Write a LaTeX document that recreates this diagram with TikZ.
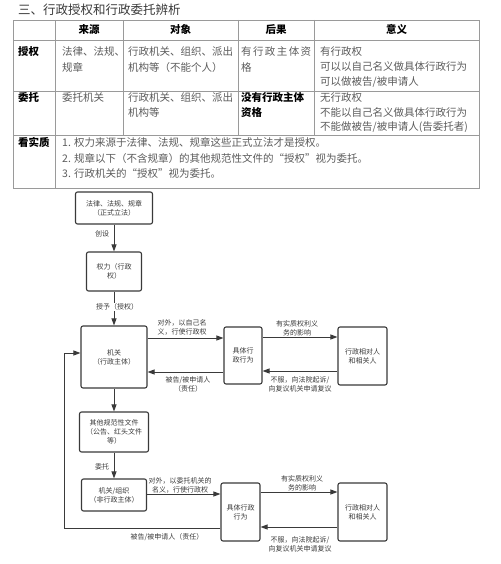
\documentclass[tikz,border=0pt]{standalone}
\usepackage{fontspec}
\setmainfont{Noto Sans CJK SC}
\usetikzlibrary{arrows.meta}
\definecolor{tline}{HTML}{9A9A9A}
\definecolor{ttext}{HTML}{5C5C5C}
\definecolor{fc}{HTML}{3A3A3A}
\begin{document}
\begin{tikzpicture}[x=1pt,y=-1pt,
  tl/.style={draw=tline, line width=0.8pt},
  cell/.style={anchor=base west, inner sep=0pt, text=ttext, font=\fontsize{10.5}{12}\selectfont},
  bcell/.style={anchor=base west, inner sep=0pt, text=black, font=\fontsize{10.5}{12}\selectfont\bfseries},
  hcell/.style={anchor=base, inner sep=0pt, text=black, font=\fontsize{10.5}{12}\selectfont\bfseries},
  box/.style={draw=fc, line width=1.1pt, rounded corners=2pt, align=center, text=fc,
    font=\fontsize{7}{9}\selectfont, inner sep=1pt},
  arr/.style={draw=fc, line width=0.9pt, -{Triangle[length=7pt,width=5pt]}},
  lbl/.style={text=fc, font=\fontsize{7}{9}\selectfont, align=center, inner sep=1pt}
]
\useasboundingbox (0,0) rectangle (500,564);
\fill[white] (0,0) rectangle (500,564);

% ---------- title ----------
\node[anchor=base west, inner sep=0pt, text=fc, font=\fontsize{12.5}{14}\selectfont] (title) at (18,14.5) {三、行政授权和行政委托辨析};

% ---------- table grid ----------
\draw[tl] (13,20) rectangle (479,188);
\draw[tl] (13,40) -- (479,40);
\draw[tl] (13,91) -- (479,91);
\draw[tl] (13,135) -- (479,135);
\draw[tl] (55,20) -- (55,188);
\draw[tl] (123,20) -- (123,135);
\draw[tl] (238,20) -- (238,135);
\draw[tl] (314,20) -- (314,135);

% header
\node[hcell] (h1) at (89,34) {来源};
\node[hcell] (h2) at (180.5,34) {对象};
\node[hcell] (h3) at (276,34) {后果};
\node[hcell] (h4) at (396.5,34) {意义};

% row 1
\node[bcell] (r1) at (18,56) {授权};
\node[cell] (r1a1) at (62,56) {法律、法规、};
\node[cell] (r1a2) at (62,72) {规章};
\node[cell] (r1b1) at (128,56) {行政机关、组织、派出};
\node[cell] (r1b2) at (128,72) {机构等（不能个人）};
\node[cell] (r1c1) at (241,56) {\makebox[70pt][s]{有\hfil 行\hfil 政\hfil 主\hfil 体\hfil 资}};
\node[cell] (r1c2) at (241,72) {格};
\node[cell] (r1d1) at (320,56) {有行政权};
\node[cell] (r1d2) at (320,71) {可以以自己名义做具体行政行为};
\node[cell] (r1d3) at (320,86) {可以做被告/被申请人};

% row 2
\node[bcell] (r2) at (18,102) {委托};
\node[cell] (r2a1) at (62,102) {委托机关};
\node[cell] (r2b1) at (128,102) {行政机关、组织、派出};
\node[cell] (r2b2) at (128,117) {机构等};
\node[bcell] (r2c1) at (241,102) {没有行政主体};
\node[bcell] (r2c2) at (241,117) {资格};
\node[cell] (r2d1) at (320,102) {无行政权};
\node[cell] (r2d2) at (320,116.5) {不能以自己名义做具体行政行为};
\node[cell] (r2d3) at (320,130.5) {不能做被告/被申请人(告委托者)};

% row 3
\node[bcell] (r3) at (18,147) {看实质};
\node[cell] (r3a) at (62,147) {1. 权力来源于法律、法规、规章这些正式立法才是授权。};
\node[cell] (r3b) at (62,162) {2. 规章以下（不含规章）的其他规范性文件的“授权”视为委托。};
\node[cell] (r3c) at (62,177) {3. 行政机关的“授权”视为委托。};

% ---------- flowchart ----------
\node[box, minimum width=77pt, minimum height=32pt] (A) at (114,208) {法律、法规、规章\\（正式立法）};
\node[box, minimum width=55pt, minimum height=39pt] (B) at (114,271.5) {权力（行政\\权）};
\node[box, minimum width=66pt, minimum height=62pt] (C) at (114,357) {机关\\（行政主体）};
\node[box, minimum width=38pt, minimum height=57pt] (D) at (243,355.5) {具体行\\政行为};
\node[box, minimum width=49pt, minimum height=58pt] (E) at (362.5,356) {行政相对人\\和相关人};
\node[box, minimum width=69pt, minimum height=40pt] (F) at (114,432) {其他规范性文件\\（公告、红头文件\\等）};
\node[box, minimum width=65pt, minimum height=32pt] (G) at (114,495) {机关/组织\\（非行政主体）};
\node[box, minimum width=39pt, minimum height=58pt] (H) at (240.5,512) {具体行政\\行为};
\node[box, minimum width=49pt, minimum height=58pt] (I) at (362.5,512) {行政相对人\\和相关人};

% vertical arrows
\draw[arr] (A) -- (B);
\node[lbl] (l1) at (102,234) {创设};
\draw[arr] (B) -- (C);
\node[lbl, fill=white] (l2) at (117,307) {授予（授权）};
\draw[arr] (C) -- (F);
\draw[arr] (F) -- (G);
\node[lbl] (l3) at (102,467) {委托};

% upper row
\draw[arr] (C.east |- 0,338) -- (D.west |- 0,338);
\node[lbl] (l4) at (182,327.5) {对外，以自己名\\义，行使行政权};
\draw[arr] (D.west |- 0,372) -- (C.east |- 0,372);
\node[lbl] (l5) at (188,384.5) {被告/被申请人\\（责任）};
\draw[arr] (D.east |- 0,337) -- (E.west |- 0,337);
\node[lbl] (l6) at (297,328) {有实质权利义\\务的影响};
\draw[arr] (E.west |- 0,371) -- (D.east |- 0,371);
\node[lbl] (l7) at (300,384.5) {不服，向法院起诉/\\向复议机关申请复议};

% lower row
\draw[arr] (G.east |- 0,494) -- (H.west |- 0,494);
\node[lbl] (l8) at (180,485) {对外，以委托机关的\\名义，行使行政权};
\draw[arr] (H.east |- 0,492) -- (I.west |- 0,492);
\node[lbl] (l9) at (302,483) {有实质权利义\\务的影响};
\draw[arr] (I.west |- 0,527) -- (H.east |- 0,527);
\node[lbl] (l10) at (300,544.5) {不服，向法院起诉/\\向复议机关申请复议};

% loop back
\coordinate (k1) at (64,528);
\coordinate (k2) at (64,353);
\draw[arr] (H.west |- 0,528) -- (k1) -- (k2) -- (C.west |- 0,353);
\node[lbl] (l11) at (167,537) {被告/被申请人（责任）};
\end{tikzpicture}
\end{document}
